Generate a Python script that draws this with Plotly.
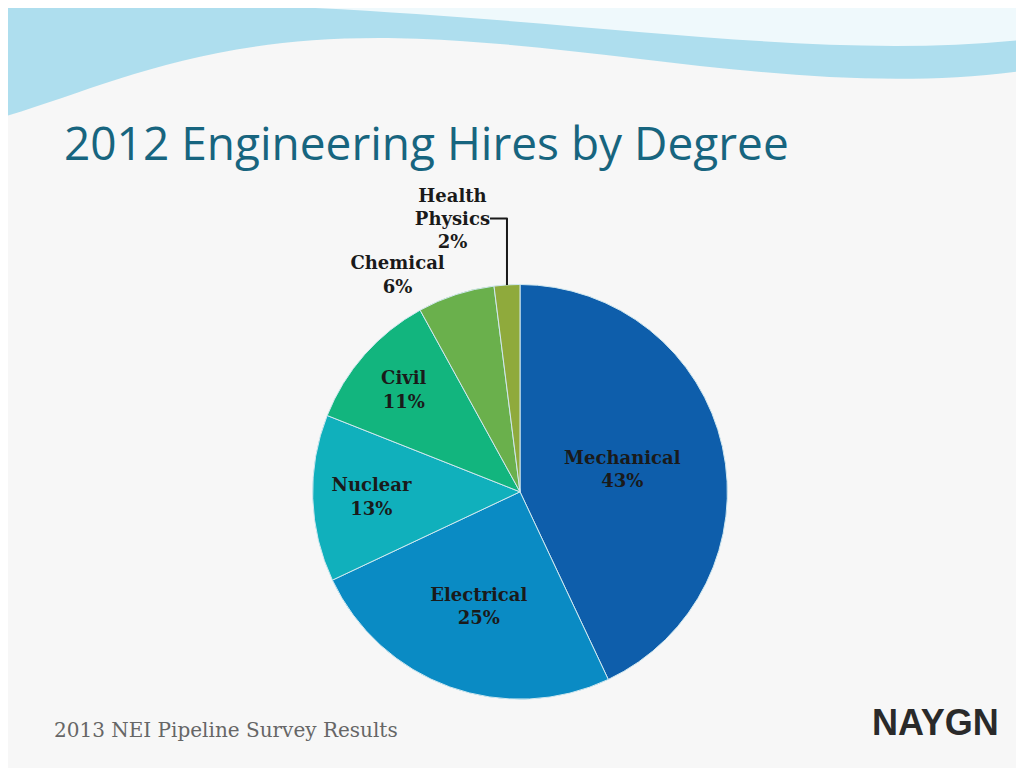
import plotly.graph_objects as go

labels = ["Mechanical", "Electrical", "Nuclear", "Civil", "Chemical", "Health<br>Physics"]
values = [43, 25, 13, 11, 6, 2]
colors = ["#0e5eab", "#0a8bc4", "#10b0bc", "#12b57e", "#6ab04c", "#8faa3c"]
positions = ["inside", "inside", "inside", "inside", "outside", "outside"]

fig = go.Figure(go.Pie(
    labels=labels, values=values, sort=False, direction="clockwise", rotation=0,
    marker=dict(colors=colors, line=dict(color="#d0e8f0", width=1)),
    texttemplate="<b>%{label}<br>%{percent:.0%}</b>", textposition=positions,
    insidetextorientation="horizontal",
    textfont=dict(family="DejaVu Serif", size=18, color="#1a1a1a"),
    outsidetextfont=dict(family="DejaVu Serif", size=18, color="#1a1a1a"),
    domain=dict(x=[0.2, 0.8], y=[0.1, 0.64]), showlegend=False, hoverinfo="label+percent"))

fig.update_layout(
    width=1024, height=768, margin=dict(l=0, r=0, t=0, b=0),
    paper_bgcolor="#f7f7f7", plot_bgcolor="#f7f7f7",
    shapes=[
        dict(type="path", xref="paper", yref="paper", layer="below",
             path="M 0 1 L 1 1 L 1 0.92 C 0.8 0.88, 0.6 0.95, 0.4 0.96 C 0.2 0.97, 0.1 0.9, 0 0.86 Z",
             fillcolor="#8fd3ea", line=dict(width=0), opacity=0.7),
        dict(type="path", xref="paper", yref="paper", layer="below",
             path="M 0.3 1 L 1 1 L 1 0.96 C 0.8 0.93, 0.6 0.98, 0.3 1 Z",
             fillcolor="#ffffff", line=dict(width=0), opacity=0.8),
    ],
    annotations=[
        dict(text="2012 Engineering Hires by Degree", x=0.053, y=0.825, xref="paper", yref="paper",
             xanchor="left", yanchor="middle", showarrow=False,
             font=dict(family="Open Sans", size=46, color="#17657f")),
        dict(text="2013 NEI Pipeline Survey Results", x=0.043, y=0.06, xref="paper", yref="paper",
             xanchor="left", yanchor="middle", showarrow=False,
             font=dict(family="DejaVu Serif", size=20, color="#666666")),
        dict(text="<b>NAYGN</b>", x=0.97, y=0.07, xref="paper", yref="paper",
             xanchor="right", yanchor="middle", showarrow=False,
             font=dict(family="Liberation Sans", size=36, color="#2a2a2a")),
    ])

fig.write_html("out.html")
